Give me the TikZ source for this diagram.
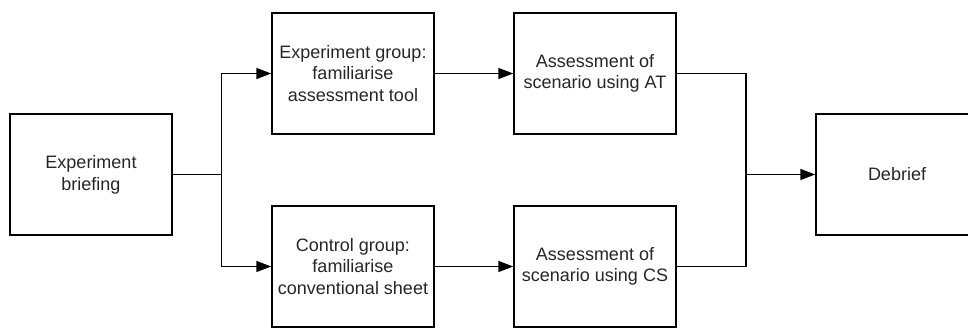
\documentclass[tikz,border=0pt]{standalone}
\usepackage{fontspec}
\setmainfont{Liberation Sans}
\usetikzlibrary{arrows.meta}
\begin{document}
\begin{tikzpicture}[x=1pt,y=1pt,
  stagebox/.style={draw=black, line width=1.5pt, minimum width=162pt, minimum height=121pt,
    inner sep=0pt, align=center, text=black!85, font=\fontsize{18}{21.7}\selectfont},
  flow/.style={draw=black, line width=1.5pt},
  flowarrow/.style={flow, -{Triangle[length=15pt,width=11pt]}}]
  \useasboundingbox (0,0) rectangle (968,329);
  \clip (0,0) rectangle (968,329);

  % stages
  \node[stagebox] (brief) at (91,154.5) {Experiment\\briefing};
  \node[stagebox] (expfam) at (353,255.5) {Experiment group:\\familiarise\\assessment tool};
  \node[stagebox] (expass) at (595,255.5) {Assessment of\\scenario using AT};
  \node[stagebox] (confam) at (353,62.5) {Control group:\\familiarise\\conventional sheet};
  \node[stagebox] (conass) at (595,62.5) {Assessment of\\scenario using CS};
  \node[stagebox] (debrief) at (897,154.5) {Debrief};

  % split and merge points
  \coordinate (split) at (221.5,154.5);
  \coordinate (merge) at (746,154.5);

  % connectors
  \draw[flow] (brief.east) -- (split);
  \draw[flowarrow] (split) |- (expfam.west);
  \draw[flowarrow] (split) |- (confam.west);
  \draw[flowarrow] (expfam) -- (expass);
  \draw[flowarrow] (confam) -- (conass);
  \draw[flow] (expass.east) -| (merge);
  \draw[flow] (conass.east) -| (merge);
  \draw[flowarrow] (merge) -- (debrief.west);
\end{tikzpicture}
\end{document}
